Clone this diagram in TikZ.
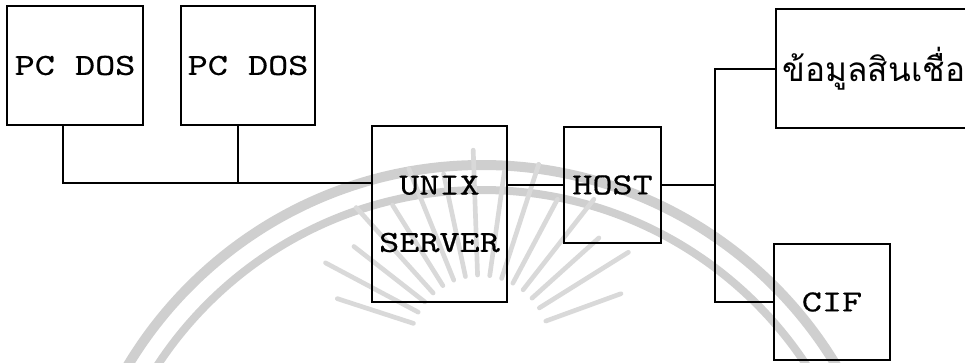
\documentclass[tikz,border=0pt]{standalone}
\usepackage{fontspec}
\usetikzlibrary{calc}
\newfontfamily\labelfont{lmmono10-regular.otf}[FakeStretch=1.25, FakeBold=0.5]
\newfontfamily\thaifont[Script=Thai]{Loma}
\begin{document}
\begin{tikzpicture}[x=0.75pt,y=-0.75pt,
  box/.style={draw=black, line width=1.6pt, fill=none, inner sep=0pt,
    font=\labelfont\fontsize{23pt}{28pt}\selectfont},
  wire/.style={draw=black, line width=1.6pt},
  faint/.style={draw=black!19, line width=7.5pt}]
\useasboundingbox (0,0) rectangle (965,362);
\clip (0,0) rectangle (965,362);

% pale seal printed behind the diagram
\draw[faint] (482,578) circle[radius=413];
\draw[faint, line width=6pt] (482,578) circle[radius=388];
\foreach \a/\r in {18/150,28/175,38/160,48/185,58/165,68/190,78/175,88/195,
                   98/175,108/190,118/165,128/185,138/160,148/175,160/150}
  \draw[draw=black!15, line width=3.5pt, line cap=round]
    ($(480,345)+(\a:-70)$) -- ($(480,345)+(\a:-\r)$);

% boxes
\node[box, minimum width=102pt, minimum height=89.25pt] (pc1) at (75,65.5) {PC DOS};
\node[box, minimum width=100.5pt, minimum height=89.25pt] (pc2) at (248,65.5) {PC DOS};
\node[box, minimum width=101.25pt, minimum height=132pt, align=center]
  (unix) at (439.5,214) {UNIX\\[15pt]SERVER};
\node[box, minimum width=72.75pt, minimum height=87pt] (host) at (612.5,185) {HOST};
\node[box, anchor=north west, minimum height=89.25pt, text width=170pt,
      inner xsep=5pt, align=left, font=\thaifont\fontsize{25pt}{30pt}\selectfont]
  (info) at (775,8) {ข้อมูลสินเชื่อ};
\node[box, minimum width=87pt, minimum height=87pt] (cif) at (832,302) {CIF};

% bus from the two PCs into the server
\coordinate (drop1) at ([xshift=-9pt]pc1.south);
\coordinate (drop2) at ([xshift=-7.5pt]pc2.south);
\coordinate (bus) at (drop1 |- 0,183);
\draw[wire] (drop1) -- (bus) -- (bus -| unix.west);
\draw[wire] (drop2) -- (drop2 |- bus);

% server to host
\draw[wire] (host.west -| unix.east) -- (host.west);

% host fans out to the two data stores
\coordinate (hub) at (715,185);
\draw[wire] (host.east) -- (hub);
\draw[wire] (info.west) -| (hub) |- (cif.west);
\end{tikzpicture}
\end{document}
